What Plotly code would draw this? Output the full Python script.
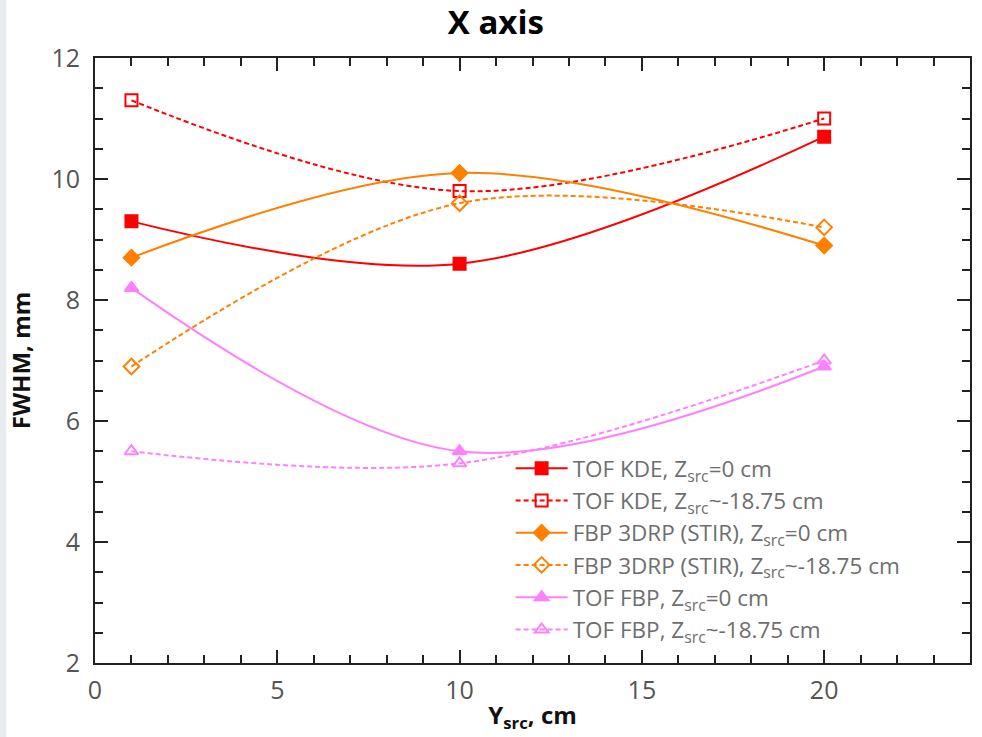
import plotly.graph_objects as go

y_src = [1, 10, 20]
kde_z0 = [9.3, 8.6, 10.7]
kde_z18 = [11.3, 9.8, 11.0]
fbp3d_z0 = [8.7, 10.1, 8.9]
fbp3d_z18 = [6.9, 9.6, 9.2]
toffbp_z0 = [8.2, 5.5, 6.9]
toffbp_z18 = [5.5, 5.3, 7.0]

names = [
    "TOF KDE, Z<sub>src</sub>=0 cm",
    "TOF KDE, Z<sub>src</sub>~-18.75 cm",
    "FBP 3DRP (STIR), Z<sub>src</sub>=0 cm",
    "FBP 3DRP (STIR), Z<sub>src</sub>~-18.75 cm",
    "TOF FBP, Z<sub>src</sub>=0 cm",
    "TOF FBP, Z<sub>src</sub>~-18.75 cm",
]
series = [kde_z0, kde_z18, fbp3d_z0, fbp3d_z18, toffbp_z0, toffbp_z18]
colors = ["#ff0000", "#ff0000", "#ff8000", "#ff8000", "#ff80ff", "#ff80ff"]
dashes = ["solid", "dash", "solid", "dash", "solid", "dash"]
symbols = ["square", "square-open", "diamond", "diamond-open", "triangle-up", "triangle-up-open"]

fig = go.Figure()
for n, s, c, d, sym in zip(names, series, colors, dashes, symbols):
    fig.add_trace(go.Scatter(
        x=y_src, y=s, name=n, mode="lines+markers",
        line=dict(color=c, width=2, dash=d if d == "solid" else "5px,3px", shape="spline", smoothing=1.0),
        marker=dict(symbol=sym, size=12, color=c, line=dict(color=c, width=2)),
    ))

axis_common = dict(
    showline=True, linecolor="#222", linewidth=2, mirror="allticks",
    ticks="inside", ticklen=13, tickwidth=2, tickcolor="#222",
    showgrid=False, zeroline=False,
    tickfont=dict(family="Open Sans", size=25, color="#555"),
)
fig.update_xaxes(range=[0, 24], dtick=5, tick0=0, ticklabelstandoff=4,
                 minor=dict(dtick=1, ticks="inside", ticklen=8, tickwidth=2, tickcolor="#222"),
                 title=dict(text="<b>Y<sub>src</sub>, cm</b>", font=dict(family="Open Sans", size=24, color="#111"), standoff=2),
                 **axis_common)
fig.update_yaxes(range=[2, 12], dtick=2, tick0=0, ticklabelstandoff=8,
                 minor=dict(dtick=0.5, ticks="inside", ticklen=8, tickwidth=2, tickcolor="#222"),
                 title=dict(text="<b>FWHM, mm</b>", font=dict(family="Open Sans", size=24, color="#111"), standoff=14),
                 **axis_common)

fig.update_layout(
    width=982, height=737,
    margin=dict(l=95, r=10, t=58, b=74),
    paper_bgcolor="white", plot_bgcolor="white",
    title=dict(text="<b>X axis</b>", x=0.505, xanchor="center", y=0.97, yanchor="middle",
               font=dict(family="Open Sans", size=33, color="#000")),
    legend=dict(x=0.475, y=0.357, xanchor="left", yanchor="top",
                bgcolor="rgba(0,0,0,0)", tracegroupgap=0, itemwidth=52,
                font=dict(family="Open Sans", size=22.5, color="#6e6e6e")),
    showlegend=True,
    shapes=[dict(type="rect", xref="paper", yref="paper", x0=-0.109, x1=-0.1015, y0=-0.13, y1=1.1,
                 fillcolor="#e8ebf0", line=dict(width=0), layer="below")],
)

fig.write_html("out.html")
